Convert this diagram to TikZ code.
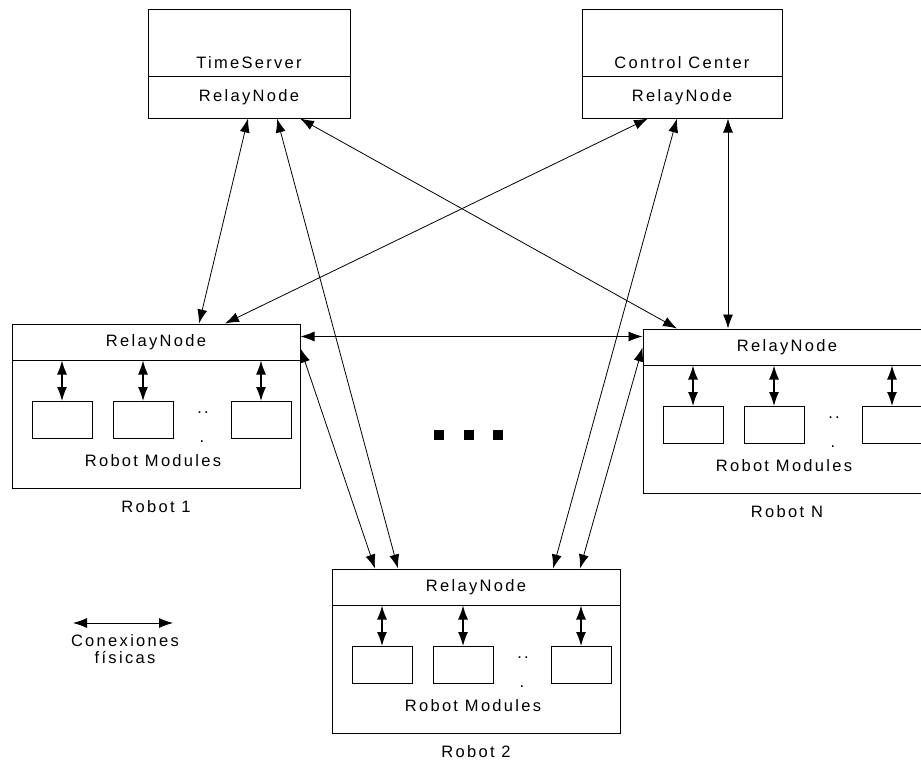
\documentclass[tikz,border=0pt]{standalone}
\usepackage{fontspec}
\setmainfont{Liberation Sans}[LetterSpace=14]
\usetikzlibrary{arrows.meta,calc}

\begin{document}
\begin{tikzpicture}[x=1pt, y=-1pt, >={Latex[length=14pt,width=10pt]},
		every node/.style={font=\fontsize{16.5}{20}\selectfont},
		box/.style={draw, line width=1pt, inner sep=0pt},
		link/.style={<->, line width=0.8pt}]
	\clip (0,0) rectangle (921,760);
	% servers
	\node[box, minimum width=202pt, minimum height=108pt] (ts) at (249,64) {};
	\node[box, minimum width=202pt, minimum height=41pt, anchor=south] (ts-relay) at (ts.south) {RelayNode};
	\node (ts-name) at ($(ts.north)+(0,53)$) {TimeServer};
	\node[box, minimum width=200pt, minimum height=108pt] (cc) at (682,64) {};
	\node[box, minimum width=200pt, minimum height=41pt, anchor=south] (cc-relay) at (cc.south) {RelayNode};
	\node (cc-name) at ($(cc.north)+(0,53)$) {Control Center};
	% robots
	\foreach \rb/\x/\y/\lab in {r1/156/406/Robot 1, rn/787/411/Robot N, r2/476/651/Robot 2} {
			\node[box, minimum width=288pt, minimum height=164pt] (\rb) at (\x,\y) {};
			\node[box, minimum width=288pt, minimum height=36pt, anchor=north] (\rb-relay) at (\rb.north) {RelayNode};
			\foreach \m/\dx in {1/-94, 2/-13, 3/105} {
					\node[box, minimum width=60pt, minimum height=37pt] (\rb-m\m) at ($(\rb.north)+(\dx,96.5)$) {};
					\draw[<->, line width=1.2pt] (\rb-relay.south -| \rb-m\m.north) -- (\rb-m\m.north);
				}
			\node[inner sep=0pt] (\rb-dots) at ($(\rb.north)+(47,89)$) {..};
			\node[inner sep=0pt] (\rb-dot) at ($(\rb.north)+(46,118)$) {.};
			\node (\rb-mods) at ($(\rb.north)+(-3,137)$) {Robot Modules};
			\node (\rb-lab) at ($(\rb.south)+(0,18)$) {\lab};
		}
	% physical links
	\draw[link] ([xshift=-1pt]ts-relay.south) -- ([xshift=43pt]r1.north);
	\draw[link] ([xshift=28pt]ts-relay.south) -- ([xshift=-78pt]r2.north);
	\draw[link] ([xshift=51pt]ts-relay.south) -- ([xshift=-110pt]rn.north);
	\draw[link] ([xshift=-34pt]cc-relay.south) -- ([xshift=69pt]r1.north);
	\draw[link] ([xshift=-5pt]cc-relay.south) -- ([xshift=77pt]r2.north);
	\draw[link] ([xshift=46pt]cc-relay.south) -- ([xshift=-59pt]rn.north);
	\draw[link] ([yshift=-13pt]r1.north east) -- ([yshift=-8pt]rn.north west);
	\draw[link] ([yshift=-25pt]r1.north east) -- ([xshift=-101pt]r2.north);
	\draw[link] ([yshift=-19pt]rn.north west) -- ([xshift=104pt]r2.north);
	% more robots
	\foreach \x in {439,469,498}
	\fill (\x-5,430) rectangle (\x+5,440);
	% legend
	\coordinate (leg-a) at (73,623);
	\coordinate (leg-b) at (173,623);
	\draw[link] (leg-a) -- (leg-b);
	\node[align=center, font=\fontsize{16.5}{17}\selectfont] (leg) at (125,649) {Conexiones\\físicas};
\end{tikzpicture}
\end{document}
